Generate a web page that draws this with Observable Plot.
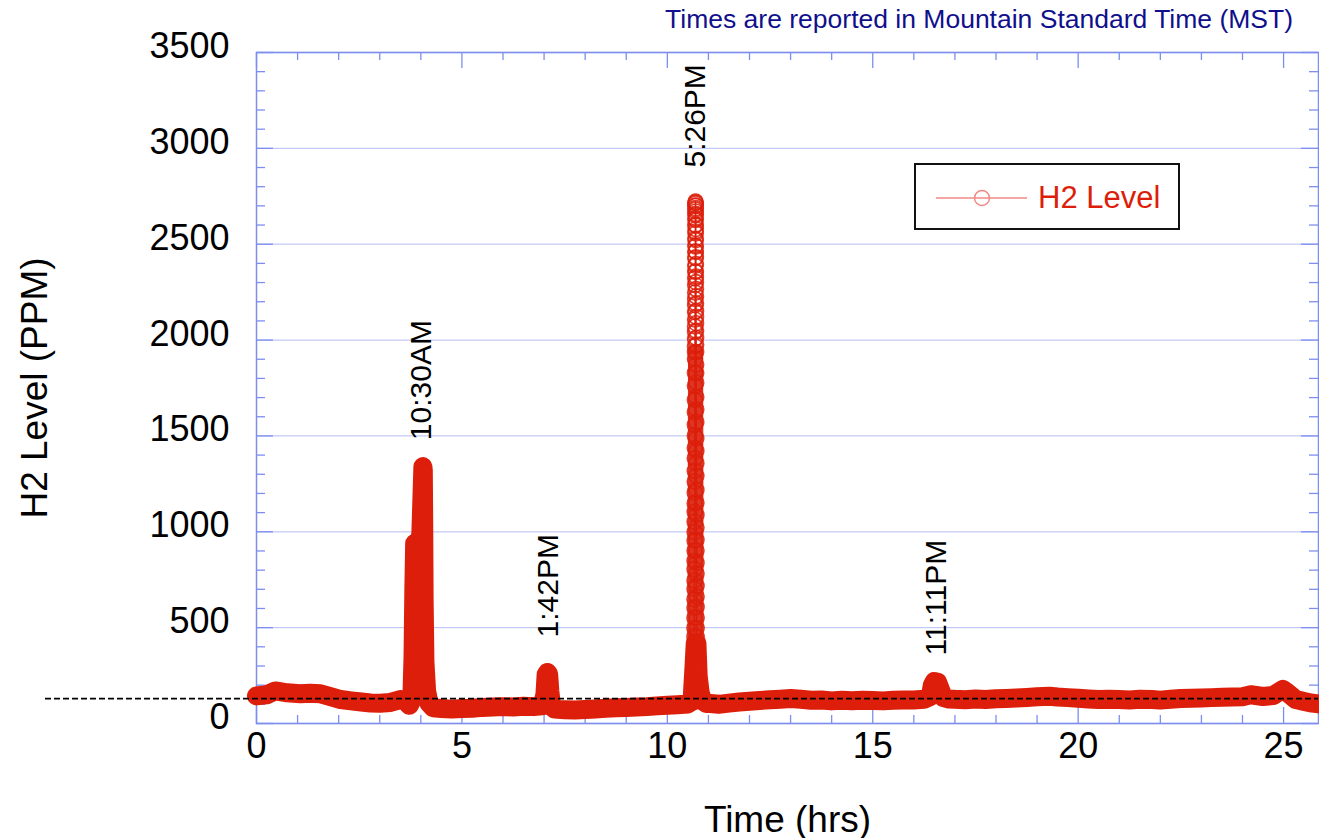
<!DOCTYPE html>
<html><head><meta charset="utf-8">
<script src="https://cdn.jsdelivr.net/npm/d3@7"></script>
<script src="https://cdn.jsdelivr.net/npm/@observablehq/plot@0.6"></script>
<style>
body{margin:0;background:#fff;font-family:"Liberation Sans",Arial,sans-serif;}
#wrap{position:relative;width:1319px;height:838px;overflow:hidden;}
#title{position:absolute;right:26px;top:4px;font-size:26.5px;color:#10108c;white-space:nowrap;}
#legend{position:absolute;left:914px;top:163px;width:266px;height:67px;box-sizing:border-box;border:2px solid #111;background:#fff;}
#legend svg{position:absolute;left:0;top:0;}
#legend span{position:absolute;left:122px;top:15px;font-size:31px;color:#dc1e0a;white-space:nowrap;}
</style></head><body>
<div id="wrap"><div id="chart"></div>
<div id="title">Times are reported in Mountain Standard Time (MST)</div>
<div id="legend"><svg width="262" height="63"><line x1="20" x2="111" y1="33" y2="33" stroke="#f08a84" stroke-width="1.5"/><circle cx="66" cy="33" r="7.5" fill="none" stroke="#f08a84" stroke-width="1.5"/></svg><span>H2 Level</span></div>
</div>
<script>
// ---- data ----
const timeHrs = [0,0.25,0.46,0.75,1.07,1.3,1.56,1.8,2.05,2.3,2.55,2.78,3.0,3.26,3.5,3.63,3.72,3.78,3.81,3.83,3.85,3.9,3.95,4.0,4.03,4.05,4.06,4.07,4.08,4.1,4.14,4.2,4.3,4.5,4.75,5.0,5.25,5.5,5.75,6.0,6.25,6.5,6.75,6.95,7.02,7.05,7.08,7.11,7.14,7.18,7.25,7.5,7.75,8.0,8.25,8.5,8.75,9.0,9.25,9.5,9.75,10.0,10.25,10.5,10.6,10.65,10.68,10.72,10.75,10.8,10.86,10.95,11.05,11.25,11.5,11.75,12.0,12.25,12.5,12.75,13.0,13.25,13.5,13.75,14.0,14.25,14.5,14.75,15.0,15.25,15.5,15.75,16.0,16.25,16.4,16.45,16.5,16.58,16.65,16.72,16.85,17.0,17.25,17.5,17.75,18.0,18.25,18.5,18.75,19.0,19.3,19.5,19.75,20.0,20.25,20.5,20.75,21.0,21.25,21.5,21.8,22.0,22.25,22.5,22.75,23.0,23.25,23.5,23.75,24.0,24.2,24.5,24.75,24.98,25.1,25.3,25.5,25.7,25.85];
const h2Ppm = [144,150,170,160,155,158,155,140,125,118,112,107,106,110,125,118,95,120,350,700,940,915,935,990,1200,1340,1320,1050,650,320,170,105,82,78,75,78,80,84,86,88,86,90,88,92,150,255,266,258,170,90,75,72,70,73,76,80,82,84,86,88,92,95,98,102,115,300,420,420,250,160,118,104,104,100,106,112,116,120,124,127,130,126,121,123,118,121,119,121,120,118,121,122,123,126,140,200,219,215,175,135,128,126,124,128,125,129,131,133,136,140,142,138,135,132,128,125,127,125,123,126,125,122,126,130,132,133,135,137,138,140,150,141,146,178,160,125,115,106,102];
// 5:26PM peak: samples climbing then falling (ppm)
const peakStart = 10.655, peakStep = 0.00054;
const peakRise = [120,165,205,248,296,352,398,455,497,552,604,648,703,746,805,848,902,955,998,1052,1104,1148,1205,1262,1318,1383,1437,1502,1558,1624,1688,1762,1829,1903,1938,1968,2005,2043,2071,2107,2146,2183,2214,2248,2287,2322,2356,2388,2427,2462,2494,2528,2566,2601,2633,2658,2681,2700,2713,2722];
const peakFall = [2717,2702,2688,2671,2652,2627,2598,2579,2556,2521,2488,2461,2432,2396,2358,2331,2302,2266,2228,2191,2152,2121,2088,2049,2012,1976,1938,1872,1828,1778,1702,1638,1572,1488,1422,1358,1292,1218,1152,1088,1022,958,902,838,782,718,662,608,552,498,452,402,358,318,282,238,208,178,152,132,116];
const threshold = 130;
const annoTimes = [4.02, 7.1, 10.69, 16.55];
const annoPpm = [1478, 449, 2900, 355];
const annoText = ["10:30AM", "1:42PM", "5:26PM", "11:11PM"];
const xMajor = [0,5,10,15,20,25];
const xMinor = [1,2,3,4,6,7,8,9,11,12,13,14,16,17,18,19,21,22,23,24];
const yMajor = [0,500,1000,1500,2000,2500,3000,3500];
const yMinor = [100,200,300,400,600,700,800,900,1100,1200,1300,1400,1600,1700,1800,1900,2100,2200,2300,2400,2600,2700,2800,2900,3100,3200,3300,3400];

// ---- tables ----
const series = timeHrs.map((t,i)=>({t, v:h2Ppm[i]}));
const peak = peakRise.concat(peakFall).map((v,i)=>({t: peakStart + i*peakStep, v}));
const peakLow = peak.filter(d => d.v <= 1950);
const annos = annoText.map((s,i)=>({t:annoTimes[i], v:annoPpm[i], s}));

const W=1319, H=838, mL=256, mT=52, mB=115, mR=1;
const pH = H-mT-mB, pW = W-mL-mR;
const red = "#dc1e0a", axisBlue = "#7d8ef0", gridBlue = "#c3c9f5";

const chart = Plot.plot({
  width: W, height: H,
  marginLeft: mL, marginTop: mT, marginBottom: mB, marginRight: mR,
  style: {fontFamily: "'Liberation Sans', Arial, sans-serif", background: "transparent", color: "#000"},
  x: {domain: [0, 25.85]},
  y: {domain: [0, 3500]},
  marks: [
    Plot.gridY(yMajor, {stroke: gridBlue, strokeOpacity: 1, strokeWidth: 1.3}),
    Plot.tickX(xMinor, {x: d=>d, stroke: axisBlue, strokeWidth: 1.3, insetTop: pH-8}),
    Plot.tickX(xMinor, {x: d=>d, stroke: axisBlue, strokeWidth: 1.3, insetBottom: pH-8}),
    Plot.tickX(xMajor, {x: d=>d, stroke: axisBlue, strokeWidth: 1.3, insetTop: pH-16}),
    Plot.tickX(xMajor, {x: d=>d, stroke: axisBlue, strokeWidth: 1.3, insetBottom: pH-16}),
    Plot.tickY(yMinor, {y: d=>d, stroke: axisBlue, strokeWidth: 1.3, insetRight: pW-9}),
    Plot.tickY(yMinor, {y: d=>d, stroke: axisBlue, strokeWidth: 1.3, insetLeft: pW-9}),
    Plot.tickY(yMajor, {y: d=>d, stroke: axisBlue, strokeWidth: 1.3, insetRight: pW-17}),
    Plot.tickY(yMajor, {y: d=>d, stroke: axisBlue, strokeWidth: 1.3, insetLeft: pW-17}),
    Plot.frame({stroke: axisBlue, strokeWidth: 1.5}),
    Plot.axisX({ticks: xMajor, tickSize: 0, tickPadding: 9, fontSize: 36, label: null, tickFormat: d=>String(d)}),
    Plot.axisY({ticks: yMajor, tickSize: 0, tickPadding: 27, dy: -6, fontSize: 36, label: null, tickFormat: d=>String(d)}),
    Plot.text(["Time (hrs)"], {text: d=>d, frameAnchor: "bottom", textAnchor: "middle", dy: 108, fontSize: 37, fill: "#000"}),
    Plot.text(["H2 Level (PPM)"], {text: d=>d, frameAnchor: "left", textAnchor: "middle", dx: -221, rotate: -90, fontSize: 37, fill: "#000"}),
    Plot.line(series, {x: "t", y: "v", stroke: red, strokeWidth: 19, strokeLinejoin: "round", strokeLinecap: "round"}),
    Plot.line(peakLow, {x: "t", y: "v", stroke: red, strokeWidth: 14, strokeOpacity: 0.9, strokeLinecap: "round"}),
    Plot.line(peak, {x: "t", y: "v", stroke: red, strokeWidth: 1.5}),
    Plot.dot(peak, {x: "t", y: "v", r: 7.5, stroke: red, strokeWidth: 1.6, strokeOpacity: 0.85, fill: "none"}),
    Plot.ruleY([threshold], {stroke: "#000", strokeWidth: 1.6, strokeDasharray: "6,3", insetLeft: -211}),
    Plot.text(annos, {x: "t", y: "v", text: "s", rotate: -90, textAnchor: "start", lineAnchor: "middle", fontSize: 30, fill: "#000"})
  ]
});
document.getElementById("chart").appendChild(chart);
</script>
</body></html>
